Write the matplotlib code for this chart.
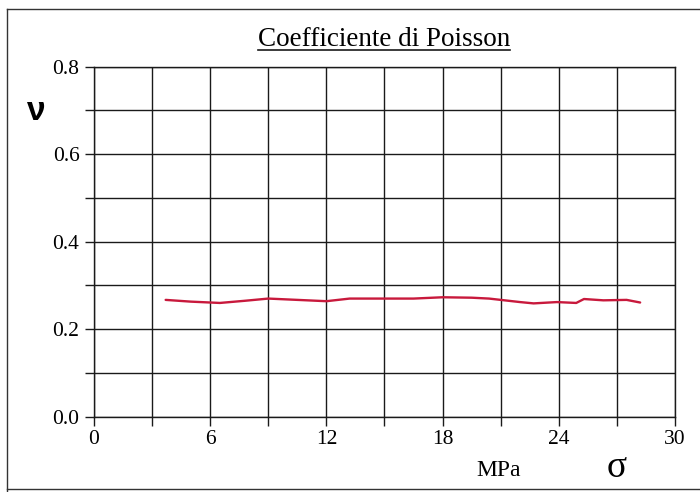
import numpy as np
import matplotlib
matplotlib.use('Agg')
import matplotlib.pyplot as plt
from matplotlib.lines import Line2D
from matplotlib.ticker import MultipleLocator

# Poisson's ratio vs stress
sigma = [3.7, 5.0, 6.5, 7.8, 9.0, 10.5, 12.0, 13.2, 15.0, 16.5, 18.0, 19.5, 20.4,
         21.0, 22.0, 22.7, 23.9, 24.9, 25.3, 26.3, 27.5, 28.2]
nu = [0.267, 0.263, 0.260, 0.265, 0.270, 0.267, 0.264, 0.270, 0.270, 0.270, 0.273, 0.272, 0.270,
      0.267, 0.262, 0.259, 0.262, 0.260, 0.269, 0.266, 0.267, 0.261]

x_labels = [0, 6, 12, 18, 24, 30]
y_labels = ['0.0', '0.2', '0.4', '0.6', '0.8']

serif = ['Liberation Serif', 'DejaVu Serif']

fig = plt.figure(figsize=(7, 4.92), dpi=100)
ax = fig.add_axes([94/700, 75.3/492, 581/700, 350/492])

ax.plot(sigma, nu, color='#c8193c', lw=1.7, solid_capstyle='round')

ax.set_xlim(0, 30)
ax.set_ylim(0, 0.8)
ax.xaxis.set_minor_locator(MultipleLocator(3))
ax.yaxis.set_minor_locator(MultipleLocator(0.1))
ax.set_xticks(x_labels)
ax.set_xticklabels([str(v) for v in x_labels], family=serif, fontsize=15.5)
ax.set_yticks([0, 0.2, 0.4, 0.6, 0.8])
ax.set_yticklabels(y_labels, family=serif, fontsize=15.5)
ax.tick_params(which='both', direction='out', length=6.5, width=1.0, color='#1a1a1a')
ax.tick_params(axis='x', pad=3)
ax.tick_params(axis='y', pad=4)
ax.grid(which='both', color='#1a1a1a', lw=1.0)
ax.set_axisbelow(True)
for s in ax.spines.values():
    s.set_color('#1a1a1a')
    s.set_linewidth(1.0)

# title, underlined
t = fig.text(384/700, 1 - 39/492, 'Coefficiente di Poisson', ha='center', va='center',
             family=serif, fontsize=19.5)
fig.canvas.draw()
bb = t.get_window_extent().transformed(fig.transFigure.inverted())
fig.add_artist(Line2D([bb.x0, bb.x1], [1 - 50/492, 1 - 50/492],
                      transform=fig.transFigure, color='#1a1a1a', lw=1.2))

fig.text(36/700, 1 - 111/492, 'ν', ha='center', va='center',
         family=['Liberation Sans', 'DejaVu Sans'], fontweight='bold', fontsize=24)
fig.text(499/700, 1 - 470/492, 'MPa', ha='center', va='center', family=serif, fontsize=17)
fig.text(617/700, 1 - 468/492, 'σ', ha='center', va='center', family=serif, fontsize=27)

# outer frame of the scanned page
fig.add_artist(Line2D([7/700, 7/700], [0, 1 - 9/492], transform=fig.transFigure,
                      color='#333333', lw=1.0))
fig.add_artist(Line2D([7/700, 1], [1 - 9/492, 1 - 9/492], transform=fig.transFigure,
                      color='#333333', lw=1.0))
fig.add_artist(Line2D([7/700, 1], [3/492, 3/492], transform=fig.transFigure,
                      color='#333333', lw=1.0))

fig.savefig('out.png', dpi=100)
